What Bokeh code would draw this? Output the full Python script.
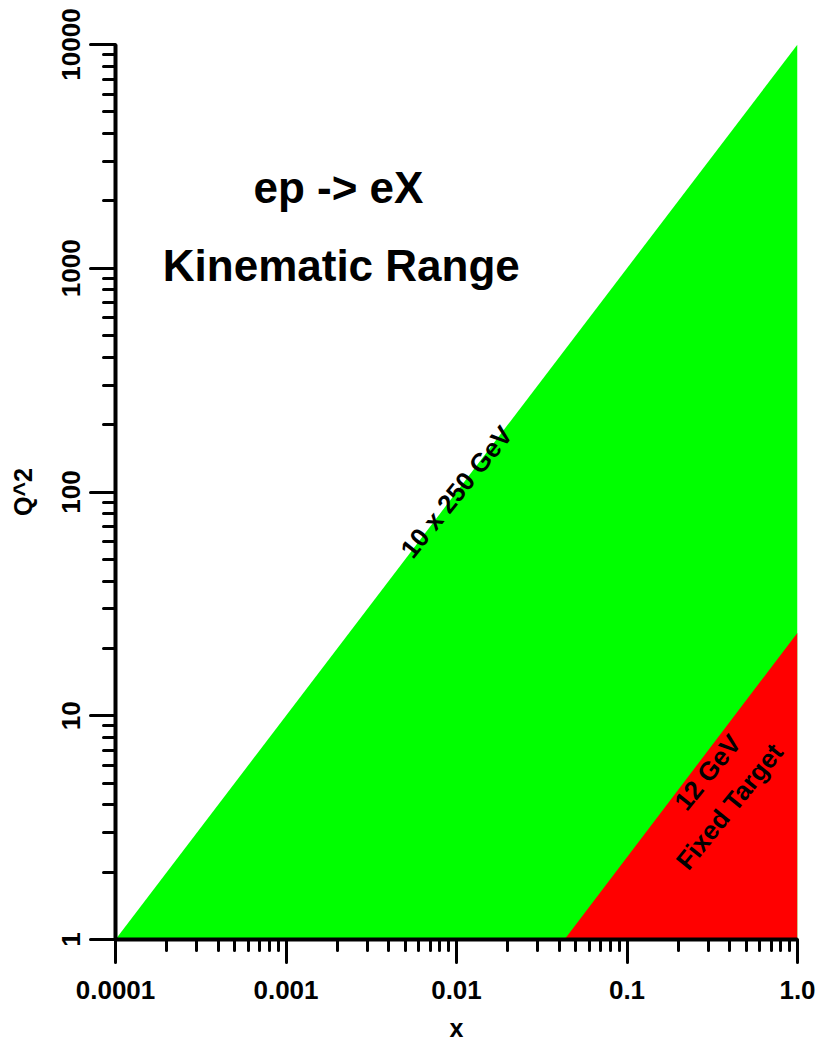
import math
from bokeh.plotting import figure
from bokeh.models import Range1d, FixedTicker, Label
from bokeh.embed import file_html
from bokeh.resources import INLINE

# ---- data ----
# 10 x 250 GeV collider: Q^2 = s*x, s ~ 10000 GeV^2
collider_x = [0.0001, 1.0, 1.0]
collider_q2 = [1.0, 1.0, 10000.0]
# 12 GeV fixed target: Q^2 ~ 23.5*x
fixed_x = [0.043, 1.0, 1.0]
fixed_q2 = [1.0, 1.0, 23.5]

x_major = [0.0001, 0.001, 0.01, 0.1, 1.0]
x_labels = ["0.0001", "0.001", "0.01", "0.1", "1.0"]
y_major = [1, 10, 100, 1000, 10000]
y_labels = ["1", "10", "100", "1000", "10000"]

FONT = "Liberation Sans"

p = figure(width=818, height=1044,
           x_axis_type="log", y_axis_type="log",
           x_range=Range1d(1e-4, 1.0), y_range=Range1d(1.0, 1e4),
           output_backend="svg", toolbar_location=None,
           min_border_left=115, min_border_right=21,
           min_border_top=44, min_border_bottom=105,
           x_axis_label="x", y_axis_label="Q^2")

p.outline_line_color = None
p.xgrid.visible = False
p.ygrid.visible = False
p.background_fill_color = "white"
p.border_fill_color = "white"

p.patch(collider_x, collider_q2, fill_color="#00ff00", line_color=None)
p.patch(fixed_x, fixed_q2, fill_color="#ff0000", line_color=None)

x_minor = [m * 10.0 ** k for k in range(-4, 0) for m in range(2, 10)]
y_minor = [m * 10.0 ** k for k in range(0, 4) for m in range(2, 10)]

p.xaxis.ticker = FixedTicker(ticks=x_major, minor_ticks=x_minor)
p.yaxis.ticker = FixedTicker(ticks=y_major, minor_ticks=y_minor)
p.xaxis.major_label_overrides = {v: s for v, s in zip(x_major, x_labels)}
p.yaxis.major_label_overrides = {v: s for v, s in zip(y_major, y_labels)}

for ax in (p.xaxis, p.yaxis):
    ax.axis_line_width = 4
    ax.axis_line_color = "black"
    ax.major_tick_line_width = 3
    ax.minor_tick_line_width = 3
    ax.major_tick_line_cap = "round"
    ax.minor_tick_line_cap = "round"
    ax.major_tick_in = 0
    ax.minor_tick_in = 0
    ax.major_label_text_font = FONT
    ax.major_label_text_font_style = "bold"
    ax.major_label_text_font_size = "26px"
    ax.major_label_text_color = "black"
    ax.axis_label_text_font = FONT
    ax.axis_label_text_font_style = "bold"
    ax.axis_label_text_font_size = "25px"
    ax.axis_label_text_color = "black"

p.xaxis.major_tick_out = 23
p.xaxis.minor_tick_out = 11
p.xaxis.major_label_standoff = 18
p.xaxis.axis_label_standoff = 12
p.xaxis.axis_label_text_line_height = 0.8

p.yaxis.major_tick_out = 25
p.yaxis.minor_tick_out = 12
p.yaxis.major_label_orientation = "vertical"
p.yaxis.major_label_standoff = 11
p.yaxis.axis_label_standoff = 22

# ---- annotations ----
def add_text(x, y, txt, size, angle=0.0, baseline="alphabetic"):
    p.add_layout(Label(x=x, y=y, text=txt, text_font=FONT, text_font_style="bold",
                       text_font_size=size, text_align="center", text_baseline=baseline,
                       angle=angle, text_color="black"))

add_text(0.00203, 2296, "ep -> eX", "44px")
add_text(0.00211, 1028, "Kinematic Range", "44px")

ang = math.radians(51)
add_text(0.01, 100, "10 x 250 GeV", "26px", ang, "middle")
add_text(0.297, 5.58, "12 GeV", "26px", ang, "middle")
add_text(0.399, 3.93, "Fixed Target", "26px", ang, "middle")

open("out.html", "w").write(file_html(p, INLINE))
